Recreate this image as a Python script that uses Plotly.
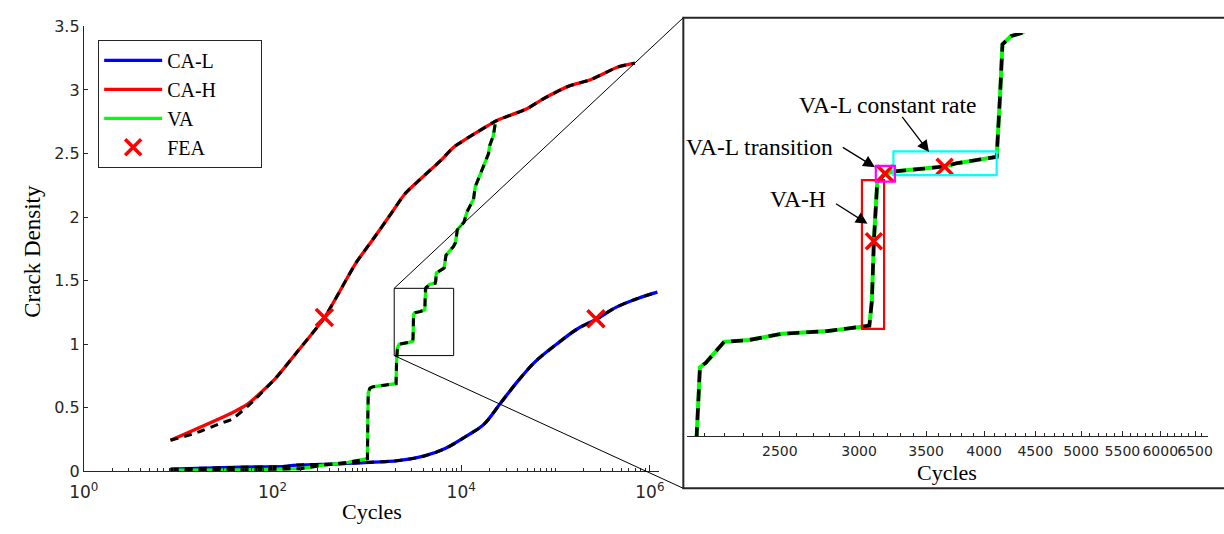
import math
import plotly.graph_objects as go

# ---------------------------------------------------------------- data
# Constant-amplitude, low load (CA-L)
cal_cycles = [8.3, 47, 140, 165, 510, 933, 2138, 3981, 6761, 11482, 17378, 26303,
              39811, 60256, 102329, 169824, 275423, 436516, 741310, 1202264]
cal_density = [0.018, 0.033, 0.04, 0.048, 0.06, 0.07, 0.085, 0.12, 0.18, 0.28, 0.37, 0.54,
               0.71, 0.86, 1.0, 1.12, 1.20, 1.29, 1.36, 1.41]

# Constant-amplitude, high load (CA-H)
cah_cycles = [8.3, 37, 54, 107, 178, 355, 767, 1175, 1778, 2512, 3467, 6166, 8318,
              14125, 23988, 48978, 74131, 138038, 234423, 457088, 691831]
cah_density = [0.245, 0.46, 0.527, 0.73, 0.93, 1.21, 1.64, 1.83, 2.02, 2.18, 2.28, 2.45, 2.55,
               2.66, 2.76, 2.85, 2.93, 3.03, 3.08, 3.18, 3.21]

# CA-H model curve (dashed); its first few points run slightly below the test curve
cah_model_cycles = [8.3, 15, 27.5, 37, 54, 63, 107, 178, 355, 767, 1175, 1778, 2512, 3467,
                    6166, 8318, 14125, 23988, 48978, 74131, 138038, 234423, 457088, 691831]
cah_model_density = [0.245, 0.30, 0.375, 0.41, 0.51, 0.555, 0.73, 0.93, 1.21, 1.64, 1.83, 2.02,
                     2.18, 2.28, 2.45, 2.55, 2.66, 2.76, 2.85, 2.93, 3.03, 3.08, 3.18, 3.21]

# Variable-amplitude block loading (VA)
va_cycles = [8.3, 47, 200, 331, 630, 944, 1015, 1025, 1035, 1080,
             1150, 1600, 2040, 2064, 2080, 2109, 2199, 2328, 2515, 2788,
             2966, 3072, 3090, 3104, 3128, 3185, 3262, 3653, 3753, 4118,
             4150, 4173, 4256, 4357, 4600, 5300, 5370, 5450, 6300, 6600,
             6900, 8300, 8700, 9100, 10700, 11500, 13500, 14100, 16600, 17400,
             19500, 20000, 21900, 22900]
va_density = [0.01, 0.012, 0.022, 0.047, 0.072, 0.095, 0.10, 0.45, 0.62, 0.655,
              0.665, 0.68, 0.69, 0.86, 0.9625, 0.9696, 1.0, 1.0026, 1.0119, 1.0157,
              1.0213, 1.0237, 1.06, 1.147, 1.2328, 1.2459, 1.2493, 1.2564, 1.261, 1.2705,
              1.36, 1.435, 1.447, 1.4514, 1.47, 1.48, 1.50, 1.56, 1.59, 1.60,
              1.70, 1.77, 1.80, 1.90, 1.96, 2.04, 2.14, 2.24, 2.37, 2.41,
              2.50, 2.56, 2.64, 2.73]

# FEA check points
fea_cycles = [355, 268000]
fea_density = [1.21, 1.20]
fea_va_cycles = [3104, 3185, 3653]
fea_va_density = [1.147, 1.246, 1.256]

# ticks
main_xticks = [1, 100, 1e4, 1e6]
main_xticklabels = ["10<sup>0</sup>", "10<sup>2</sup>", "10<sup>4</sup>", "10<sup>6</sup>"]
main_yticks = [0, 0.5, 1, 1.5, 2, 2.5, 3, 3.5]
inset_xticks = [2500, 3000, 3500, 4000, 4500, 5000, 5500, 6000, 6500]
inset_xticklabels = ["2500", "3000", "3500", "4000", "4500", "5000", "5500", "6000", "6500"]

# ---------------------------------------------------------------- geometry (pixels)
W, H = 1224, 534
MAIN_L, MAIN_R, MAIN_T, MAIN_B = 70, 655, 18, 479.5
MAIN_XR = [0, 6.094]
MAIN_YR = [0, 3.5]
INS_L, INS_R, INS_T, INS_B = 683.5, 1214, 25, 443
INS_XR = [math.log10(2018), math.log10(6700)]
INS_YR = [0.862, 1.4514]
FRAME = (680, 9, 1236, 497)

# zoomed window drawn on the main axes and highlighted regions in the inset
zoom_window = dict(c0=1950, c1=8320, d0=0.911, d1=1.44)
inset_regions = [
    dict(c0=3020, c1=3178, d0=1.0189, d1=1.2366, color="#FF0000"),
    dict(c0=3247, c1=4118, d0=1.2437, d1=1.2784, color="#00FFFF"),
    dict(c0=3118, c1=3258, d0=1.2342, d1=1.2572, color="#FF00FF"),
]

SERIF = "Liberation Serif"
SANS = "DejaVu Sans"
AXC = "#262626"
PAD = "&nbsp;" * 8   # widens the legend box to the right


def paper(xp, yp):
    return xp / W, 1 - yp / H


def main_px(c, d):
    xp = MAIN_L + (math.log10(c) - MAIN_XR[0]) / (MAIN_XR[1] - MAIN_XR[0]) * (MAIN_R - MAIN_L)
    yp = MAIN_B - (d - MAIN_YR[0]) / (MAIN_YR[1] - MAIN_YR[0]) * (MAIN_B - MAIN_T)
    return xp, yp


def inset_px(c, d):
    xp = INS_L + (math.log10(c) - INS_XR[0]) / (INS_XR[1] - INS_XR[0]) * (INS_R - INS_L)
    yp = INS_B - (d - INS_YR[0]) / (INS_YR[1] - INS_YR[0]) * (INS_B - INS_T)
    return xp, yp


fig = go.Figure()

DASH_MAIN = "8px,6px"
DASH_INS = "12px,7px"
SMOOTH_L = dict(shape="spline", smoothing=1.0)
SMOOTH_H = dict(shape="spline", smoothing=0.6)

# ---- main axes: measured curves
fig.add_trace(go.Scatter(x=cal_cycles, y=cal_density, mode="lines", name="CA-L",
                         line=dict(color="#0000FF", width=3.3, **SMOOTH_L), legendrank=1))
fig.add_trace(go.Scatter(x=cah_cycles, y=cah_density, mode="lines", name="CA-H" + PAD,
                         line=dict(color="#FF0000", width=3.3, **SMOOTH_H), legendrank=2))
fig.add_trace(go.Scatter(x=va_cycles, y=va_density, mode="lines", name="VA",
                         line=dict(color="#00FF00", width=3.3), legendrank=3))
# ---- main axes: model curves (black dashed)
for xs, ys, smooth in [(cal_cycles, cal_density, SMOOTH_L),
                       (cah_model_cycles, cah_model_density, SMOOTH_H),
                       (va_cycles, va_density, None)]:
    ln = dict(color="black", width=3, dash=DASH_MAIN)
    if smooth:
        ln.update(smooth)
    fig.add_trace(go.Scatter(x=xs, y=ys, mode="lines", showlegend=False, line=ln))
fig.add_trace(go.Scatter(x=fea_cycles, y=fea_density, mode="markers", name="FEA",
                         marker=dict(symbol="x-thin", size=17, color="#FF0000",
                                     line=dict(width=3.5, color="#FF0000")),
                         legendrank=4))

# ---- inset axes
fig.add_trace(go.Scatter(x=va_cycles, y=va_density, mode="lines", showlegend=False,
                         xaxis="x2", yaxis="y2", line=dict(color="#00FF00", width=4)))
fig.add_trace(go.Scatter(x=va_cycles, y=va_density, mode="lines", showlegend=False,
                         xaxis="x2", yaxis="y2",
                         line=dict(color="black", width=3.6, dash=DASH_INS)))
fig.add_trace(go.Scatter(x=fea_va_cycles, y=fea_va_density, mode="markers", showlegend=False,
                         xaxis="x2", yaxis="y2", cliponaxis=False,
                         marker=dict(symbol="x-thin", size=16, color="#FF0000",
                                     line=dict(width=3.5, color="#FF0000"))))

main_minor = [k * 10 ** e for e in range(0, 7) for k in range(2, 10)] + [10, 1e3, 1e5]
inset_minor = [v for v in range(2100, 6800, 100) if v % 500 != 0]

shapes = []
# inset frame
fx0, fy0 = paper(FRAME[0], FRAME[3])
fx1, fy1 = paper(FRAME[2], FRAME[1])
shapes.append(dict(type="rect", xref="paper", yref="paper", x0=fx0, x1=fx1, y0=fy0, y1=fy1,
                   line=dict(color=AXC, width=2)))
# zoom window on the main axes and its connector lines
zx0, zy0 = main_px(zoom_window["c0"], zoom_window["d1"])
zx1, zy1 = main_px(zoom_window["c1"], zoom_window["d0"])
a0, b0 = paper(zx0, zy1)
a1, b1 = paper(zx1, zy0)
shapes.append(dict(type="rect", xref="paper", yref="paper", x0=a0, x1=a1, y0=b0, y1=b1,
                   line=dict(color="black", width=1)))
for (sx, sy), (tx, ty) in [((zx0, zy0), (FRAME[0], FRAME[1])),
                           ((zx0, zy1), (FRAME[0], FRAME[3]))]:
    p0 = paper(sx, sy)
    p1 = paper(tx, ty)
    shapes.append(dict(type="line", xref="paper", yref="paper", x0=p0[0], y0=p0[1],
                       x1=p1[0], y1=p1[1], line=dict(color="black", width=1)))
# highlighted regions inside the inset
for r in inset_regions:
    x0p, y1p = inset_px(r["c0"], r["d0"])
    x1p, y0p = inset_px(r["c1"], r["d1"])
    p0 = paper(x0p, y1p)
    p1 = paper(x1p, y0p)
    shapes.append(dict(type="rect", xref="paper", yref="paper", x0=p0[0], y0=p0[1],
                       x1=p1[0], y1=p1[1], line=dict(color=r["color"], width=2.2)))

annotations = []


def text(xp, yp, s, size=22, angle=0):
    px_, py_ = paper(xp, yp)
    annotations.append(dict(x=px_, y=py_, xref="paper", yref="paper", text=s, showarrow=False,
                            xanchor="center", yanchor="middle", textangle=angle,
                            font=dict(family=SERIF, size=size, color="black")))


def arrow(tail, head):
    hx, hy = paper(*head)
    annotations.append(dict(x=hx, y=hy, xref="paper", yref="paper", text="", showarrow=True,
                            ax=tail[0] - head[0], ay=tail[1] - head[1],
                            arrowhead=2, arrowsize=1.8, arrowwidth=1.3, arrowcolor="black",
                            standoff=0))


text(17, 251, "Crack Density", size=23, angle=-90)
text(363, 521, "Cycles")
text(948.6, 481, "Cycles")
text(888, 100, "VA-L constant rate", size=23.5)
text(758, 143, "VA-L transition", size=23.5)
text(796.5, 197, "VA-H", size=23.5)
arrow((902, 111.7), (930, 148.3))
arrow((841.3, 143.3), (875, 164))
arrow((834.4, 201.7), (867.4, 222.7))

lx, ly = paper(84.6, 32)

fig.update_layout(
    width=W, height=H, autosize=False,
    margin=dict(l=0, r=0, t=0, b=0),
    paper_bgcolor="white", plot_bgcolor="rgba(0,0,0,0)",
    showlegend=True,
    legend=dict(x=lx, y=ly, xanchor="left", yanchor="top",
                bgcolor="white", bordercolor=AXC, borderwidth=1,
                font=dict(family=SERIF, size=20, color="black"),
                itemwidth=58, tracegroupgap=0),
    xaxis=dict(type="log", domain=[MAIN_L / W, MAIN_R / W], range=MAIN_XR,
               showline=True, linecolor=AXC, linewidth=1, mirror=False,
               showgrid=False, zeroline=False,
               ticks="inside", ticklen=6, tickwidth=1, tickcolor=AXC,
               tickmode="array", tickvals=main_xticks, ticktext=main_xticklabels,
               tickfont=dict(family=SANS, size=17, color=AXC), tickangle=0,
               ticklabelstandoff=5,
               minor=dict(ticks="inside", ticklen=3, tickwidth=1, tickcolor=AXC,
                          tickmode="array", tickvals=main_minor, showgrid=False)),
    yaxis=dict(domain=[1 - MAIN_B / H, 1 - MAIN_T / H], range=MAIN_YR,
               showline=True, linecolor=AXC, linewidth=1, mirror=False,
               showgrid=False, zeroline=False,
               ticks="inside", ticklen=4, tickwidth=1, tickcolor=AXC,
               tickmode="array", tickvals=main_yticks,
               tickfont=dict(family=SANS, size=16, color=AXC)),
    xaxis2=dict(type="log", domain=[INS_L / W, INS_R / W], range=INS_XR, anchor="y2",
                showline=True, linecolor=AXC, linewidth=1, mirror=False,
                showgrid=False, zeroline=False,
                ticks="inside", ticklen=5, tickwidth=1, tickcolor=AXC,
                tickmode="array", tickvals=inset_xticks, ticktext=inset_xticklabels,
                tickfont=dict(family=SANS, size=14, color=AXC), tickangle=0,
                ticklabelstandoff=2,
                minor=dict(ticks="inside", ticklen=3, tickwidth=1, tickcolor=AXC,
                           tickmode="array", tickvals=inset_minor, showgrid=False)),
    yaxis2=dict(domain=[1 - INS_B / H, 1 - INS_T / H], range=INS_YR, anchor="x2",
                visible=False),
    shapes=shapes,
    annotations=annotations,
)

fig.write_html("out.html")
